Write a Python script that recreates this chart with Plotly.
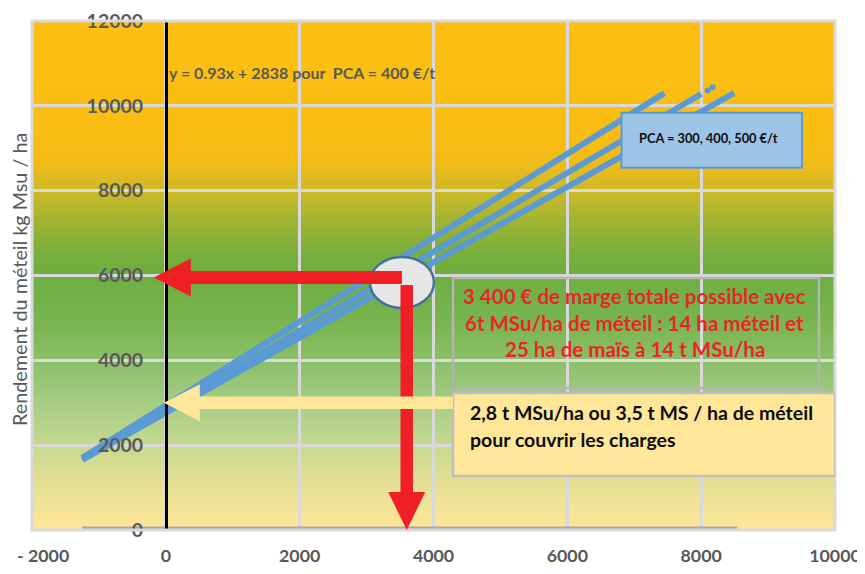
import math
import plotly.graph_objects as go

# ---------------- data ----------------
x_ticks = [-2000, 0, 2000, 4000, 6000, 8000, 10000]
x_tick_labels = ["- 2000", "0", "2000", "4000", "6000", "8000", "10000"]
y_ticks = [0, 2000, 4000, 6000, 8000, 10000, 12000]
y_tick_labels = ["0", "2000", "4000", "6000", "8000", "10000", "12000"]

pca_names = ["PCA = 300 €/t", "PCA = 400 €/t", "PCA = 500 €/t"]
x_pca300 = [-1250, 7450]
y_pca300 = [1700, 10300]
x_pca400 = [-1250, 8000]
y_pca400 = [1675, 10280]
x_pca400_tail = [8097, 8172]
y_pca400_tail = [10361, 10441]
x_pca500 = [-1250, 8490]
y_pca500 = [1650, 10300]

base_x = [-1250, 8540]
base_y = [0, 0]

# key reading points (data units)
opt_margin_x = 3528        # right end of the horizontal red arrow
opt_yield = 5955           # ~6 t MSu/ha
opt_drop_x = 3600          # vertical red arrow
opt_drop_top = 5778
break_even_yield = 3000    # ~2.8-3 t MSu/ha
yellow_tail_x = 4292

ellipse_center = (3528, 5837)

title_y = "Rendement du méteil kg Msu / ha"
eq_text = "y = 0.93x + 2838 pour  PCA = 400 €/t"
legend_text = "PCA = 300, 400, 500 €/t"
red_lines = ["3 400 € de marge totale possible avec",
             "6t MSu/ha de méteil : 14 ha méteil et",
             "25 ha de maïs à 14 t MSu/ha"]
yellow_lines = ["2,8 t MSu/ha ou 3,5 t MS / ha de méteil",
                "pour couvrir les charges"]

# ---------------- layout geometry ----------------
# page has an 8px body margin, so the figure is shifted by that amount
OFF = 8
W, H = 865 - OFF, 574 - OFF
ML, MR, MT, MB = 32 - OFF, 30, 21 - OFF, 44
XR = [-2000, 10000]
YR = [0, 12000]
PW = W - ML - MR
PH = H - MT - MB
sx = PW / (XR[1] - XR[0])
sy = PH / (YR[1] - YR[0])

FONT = "Lato, 'Open Sans', sans-serif"
GRAY_TXT = "#595959"
BLUE = "#5B9BD5"
RED = "#EE1F25"
YELLOW = "#FFE699"


def to_px(x, y):
    return (x - XR[0]) * sx, (y - YR[0]) * sy


def to_data(px, py):
    return px / sx + XR[0], py / sy + YR[0]


def arrow_path(tail, tip, shaft, head_len, head_w):
    tx, ty = to_px(*tail)
    hx, hy = to_px(*tip)
    dx, dy = hx - tx, hy - ty
    L = math.hypot(dx, dy)
    ux, uy = dx / L, dy / L
    nx, ny = -uy, ux
    bx, by = hx - ux * head_len, hy - uy * head_len
    s, w = shaft / 2, head_w / 2
    pts = [(tx + nx * s, ty + ny * s), (bx + nx * s, by + ny * s),
           (bx + nx * w, by + ny * w), (hx, hy),
           (bx - nx * w, by - ny * w), (bx - nx * s, by - ny * s),
           (tx - nx * s, ty - ny * s)]
    d = [to_data(px, py) for px, py in pts]
    return "M " + " L ".join(f"{x:.1f},{y:.1f}" for x, y in d) + " Z"


def hex2rgb(h):
    h = h.lstrip("#")
    return tuple(int(h[i:i + 2], 16) for i in (0, 2, 4))


grad_stops = [(0, "#FFE699"), (1000, "#E6E094"), (2000, "#C6D98F"),
              (3000, "#A6CD86"), (4000, "#8BBF67"), (5000, "#77B44E"),
              (6000, "#6DAE41"), (6500, "#78AF3B"), (7000, "#90B235"),
              (7500, "#AEB62F"), (8000, "#CDB927"), (8500, "#EABB1B"),
              (9000, "#F8BD14"), (12000, "#FDBF11")]


def grad_color(y):
    for (y0, c0), (y1, c1) in zip(grad_stops[:-1], grad_stops[1:]):
        if y0 <= y <= y1:
            t = (y - y0) / (y1 - y0)
            a, b = hex2rgb(c0), hex2rgb(c1)
            return "rgb(%d,%d,%d)" % tuple(round(a[i] + (b[i] - a[i]) * t) for i in range(3))
    return grad_stops[-1][1]


shapes = []
step = 50
for y0 in range(YR[0], YR[1], step):
    shapes.append(dict(type="rect", xref="x domain", yref="y", x0=0, x1=1,
                       y0=y0, y1=min(y0 + 2 * step, YR[1]), fillcolor=grad_color(y0 + step / 2),
                       line=dict(width=0), layer="below"))

# frame
shapes.append(dict(type="rect", xref="x domain", yref="y domain", x0=0, x1=1, y0=0, y1=1,
                   line=dict(color="#D9D9D9", width=3), layer="above"))

# blue legend box
shapes.append(dict(type="rect", xref="x", yref="y", x0=6810, x1=9506, y0=8538, y1=9835,
                   fillcolor="#9DC3E6", line=dict(color=BLUE, width=2), layer="above"))
# red text frame
shapes.append(dict(type="rect", xref="x", yref="y", x0=4292, x1=9760, y0=3349, y1=5943,
                   fillcolor="rgba(0,0,0,0)", line=dict(color="#B4B4B4", width=2.5), layer="above"))
# yellow box
shapes.append(dict(type="rect", xref="x", yref="y", x0=4292, x1=10000, y0=1274, y1=3231,
                   fillcolor=YELLOW, line=dict(color="#BFBFBF", width=2.5), layer="above"))

# ellipse
ew, eh = 64 / sx, 51 / sy
shapes.append(dict(type="circle", xref="x", yref="y",
                   x0=ellipse_center[0] - ew / 2, x1=ellipse_center[0] + ew / 2,
                   y0=ellipse_center[1] - eh / 2, y1=ellipse_center[1] + eh / 2,
                   fillcolor="#E7E6E6", line=dict(color="#41719C", width=2.5), layer="above"))

# arrows
shapes.append(dict(type="path", xref="x", yref="y", layer="above",
                   path=arrow_path((opt_margin_x, opt_yield), (-180, opt_yield), 13, 37, 38),
                   fillcolor=RED, line=dict(width=0)))
shapes.append(dict(type="path", xref="x", yref="y", layer="above",
                   path=arrow_path((opt_drop_x, opt_drop_top), (opt_drop_x, 0), 12.5, 38, 37),
                   fillcolor=RED, line=dict(width=0)))
shapes.append(dict(type="path", xref="x", yref="y", layer="above",
                   path=arrow_path((yellow_tail_x, break_even_yield), (-30, break_even_yield), 12.5, 36, 37),
                   fillcolor=YELLOW, line=dict(width=0)))

fig = go.Figure()
fig.add_trace(go.Scatter(x=base_x, y=base_y, mode="lines",
                         line=dict(color="#A6A6A6", width=7), showlegend=False, hoverinfo="skip"))
for name, xs, ys in [(pca_names[0], x_pca300, y_pca300),
                     (pca_names[1], x_pca400, y_pca400),
                     (pca_names[2], x_pca500, y_pca500)]:
    fig.add_trace(go.Scatter(x=xs, y=ys, mode="lines", name=name,
                             line=dict(color=BLUE, width=6), showlegend=False))
fig.add_trace(go.Scatter(x=x_pca400_tail, y=y_pca400_tail, mode="markers",
                         marker=dict(color=BLUE, size=6), showlegend=False, hoverinfo="skip"))

TICKFONT_X = dict(family=FONT, size=17.8, color=GRAY_TXT, weight="bold")

# the first x tick label sits at the very left edge: draw it as an annotation so it is not clipped
shown_x_labels = [""] + x_tick_labels[1:]

annotations = [
    dict(text="<b>" + x_tick_labels[0] + "</b>", xref="paper", yref="paper", x=(15 - 32) / PW,
         y=-25 / PH, xanchor="left", yanchor="middle", showarrow=False,
         font=dict(family=FONT, size=17.8, color=GRAY_TXT)),
    dict(text=title_y, xref="paper", yref="paper", x=-13 / PW, y=(530 - 280) / PH,
         textangle=-90, showarrow=False, font=dict(family=FONT, size=19.8, color=GRAY_TXT),
         xanchor="center", yanchor="middle"),
    dict(text="<b>" + eq_text + "</b>", xref="x", yref="y", x=20, y=10780, showarrow=False,
         xanchor="left", yanchor="middle", font=dict(family=FONT, size=16, color=GRAY_TXT)),
    dict(text="<b>" + legend_text + "</b>", xref="x", yref="y", x=7040, y=9250, showarrow=False,
         xanchor="left", yanchor="middle", font=dict(family=FONT, size=12.8, color="#0D0D0D")),
]
for i, (t, y) in enumerate(zip(red_lines, [5520, 4890, 4270])):
    annotations.append(dict(text="<b>" + t + "</b>", xref="x", yref="y", x=7007, y=y,
                            showarrow=False, xanchor="center", yanchor="middle",
                            font=dict(family=FONT, size=20.5, color="#E8262A")))
for t, y in zip(yellow_lines, [2759, 2123]):
    annotations.append(dict(text="<b>" + t + "</b>", xref="x", yref="y", x=4517, y=y,
                            showarrow=False, xanchor="left", yanchor="middle",
                            font=dict(family=FONT, size=19.5, color="#0D0D0D")))

fig.update_layout(
    width=W, height=H,
    margin=dict(l=ML, r=MR, t=MT, b=MB, pad=0, autoexpand=False),
    paper_bgcolor="white", plot_bgcolor=YELLOW,
    shapes=shapes, annotations=annotations, showlegend=False,
    xaxis=dict(range=XR, tickvals=x_ticks, ticktext=shown_x_labels, automargin=False,
               ticklabeloverflow="allow",
               showgrid=True, gridcolor="#D9D9D9", gridwidth=2.5, zeroline=False,
               showline=False, ticks="outside", ticklen=0, ticklabelstandoff=10,
               tickfont=TICKFONT_X),
    yaxis=dict(range=YR, tickvals=y_ticks, ticktext=y_tick_labels, automargin=False,
               ticklabeloverflow="allow",
               anchor="free", position=(0 - XR[0]) / (XR[1] - XR[0]),
               showgrid=True, gridcolor="#D9D9D9", gridwidth=2.5, zeroline=False,
               showline=True, linecolor="black", linewidth=2.5,
               ticks="outside", ticklen=0, ticklabelstandoff=18,
               tickfont=dict(family=FONT, size=19.5, color=GRAY_TXT, weight="bold")),
)

fig.write_html("out.html")
